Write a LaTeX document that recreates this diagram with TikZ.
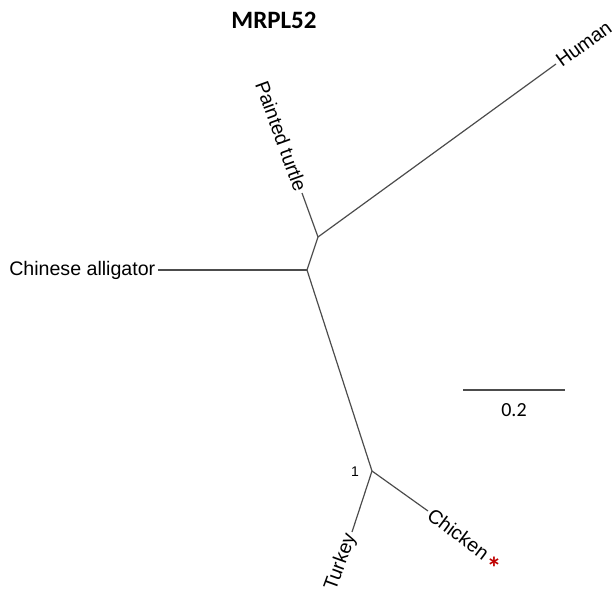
\documentclass[tikz,border=0pt]{standalone}
\usepackage{fontspec}
\setmainfont{Liberation Sans}
\newfontfamily\calib{Carlito}
\begin{document}
\begin{tikzpicture}[x=1pt,y=-1pt,
  branch/.style={draw=black!70, line width=1.2pt},
  leaflabel/.style={font=\fontsize{19.6}{21}\selectfont, inner sep=2.5pt},
  scalebar/.style={draw=black!70, line width=2pt}]
\useasboundingbox (0,0) rectangle (616,599);
% title
\node[font=\calib\bfseries\fontsize{25}{28}\selectfont] (title) at (274,20) {MRPL52};
% internal nodes
\coordinate (A) at (318,237);
\coordinate (B) at (307,270);
\coordinate (C) at (372,471);
% leaves
\coordinate (human) at (556,64);
\coordinate (turtle) at (302,193);
\coordinate (alligator) at (158,270);
\coordinate (turkey) at (352,532);
\coordinate (chicken) at (428,511);
% branches
\draw[branch] (A) -- (human);
\draw[branch] (A) -- (turtle);
\draw[branch] (A) -- (B);
\draw[branch] (B) -- (alligator);
\draw[branch] (B) -- (C);
\draw[branch] (C) -- (turkey);
\draw[branch] (C) -- (chicken);
% labels
\node[leaflabel, anchor=west, rotate=36] (humanL) at (human) {Human};
\node[leaflabel, anchor=east, rotate=-70] (turtleL) at (turtle) {Painted turtle};
\node[leaflabel, anchor=east] (alligatorL) at (alligator) {Chinese alligator};
\node[leaflabel, anchor=east, rotate=70] (turkeyL) at (turkey) {Turkey};
\node[leaflabel, anchor=west, rotate=-37] (chickenL) at (chicken) {Chicken};
\node[font=\calib\bfseries\fontsize{30}{30}\selectfont, text=red!75!black, inner sep=0pt] (star) at (494,568) {*};
\node[font=\fontsize{14}{16}\selectfont, inner sep=0pt] (boot) at (355,472) {1};
% scale bar
\coordinate (s1) at (463,390);
\coordinate (s2) at (565,390);
\draw[scalebar] (s1) -- (s2);
\node[font=\calib\fontsize{20}{22}\selectfont] (scaleL) at (514,410) {0.2};
\end{tikzpicture}
\end{document}
